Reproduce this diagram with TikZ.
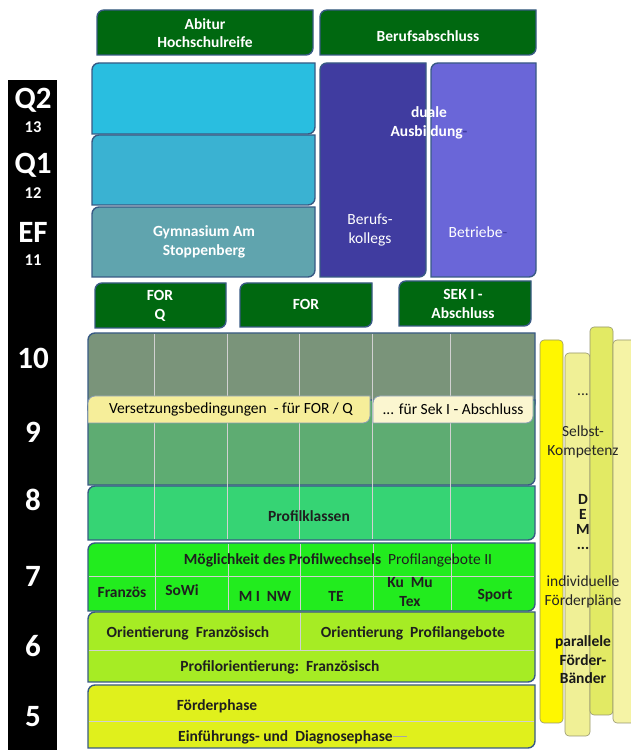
\documentclass[tikz,border=0pt]{standalone}
\usepackage{fontspec}
\setmainfont{Carlito}
\usetikzlibrary{calc}

\definecolor{boxline}{RGB}{56,90,132}
\definecolor{darkgreen}{RGB}{0,104,16}
\definecolor{cyanA}{RGB}{41,190,224}
\definecolor{cyanB}{RGB}{58,178,210}
\definecolor{tealgrey}{RGB}{96,164,174}
\definecolor{indigo}{RGB}{64,60,160}
\definecolor{slate}{RGB}{106,102,216}
\definecolor{greygreen}{RGB}{122,148,122}
\definecolor{ninegreen}{RGB}{94,172,114}
\definecolor{profgreen}{RGB}{54,212,116}
\definecolor{brightgreen}{RGB}{34,236,30}
\definecolor{yellowgreen}{RGB}{166,236,36}
\definecolor{lime}{RGB}{224,240,28}
\definecolor{versA}{RGB}{246,238,154}
\definecolor{versB}{RGB}{251,246,208}
\definecolor{barA}{RGB}{255,247,0}
\definecolor{barB}{RGB}{240,240,150}
\definecolor{barC}{RGB}{226,234,100}
\definecolor{barD}{RGB}{245,243,165}
\definecolor{barline}{RGB}{150,150,110}

\def\diagbox[#1](#2,#3)(#4,#5){\draw[#1] (#2,#3) -- (#2,#5-7) arc (180:90:7) -- (#4,#5) -- (#4,#3+7) arc (0:-90:7) -- cycle;}

\tikzset{
	bx/.style={draw=boxline, line width=1.4},
	colline/.style={draw=white!82!black, line width=0.8},
	btxt/.style={font=\fontsize{15.5}{18.5}\selectfont\bfseries},
	grade/.style={text=white, font=\fontsize{31}{33}\selectfont\bfseries},
	yr/.style={text=white, font=\fontsize{16.5}{18}\selectfont\bfseries},
	fband/.style={draw=barline, line width=0.6, rounded corners=4pt}
}

\begin{document}
\begin{tikzpicture}[x=1pt, y=1pt, font=\fontsize{15.5}{18.5}\selectfont, align=center, inner sep=0pt]
		%%%%% START %%%%%
		\useasboundingbox (0,0) rectangle (631,750);
		
		\fill[black] (8,0) rectangle (57,670);
		\node[grade] (q2) at (33,650) {Q2};
		\node[yr] (n13) at (33,623) {13};
		\node[grade] (q1) at (33,585) {Q1};
		\node[yr] (n12) at (33,557) {12};
		\node[grade] (ef) at (33,518) {EF};
		\node[yr] (n11) at (33,490) {11};
		\node[grade] (g10) at (33,392) {10};
		\node[grade] (g9) at (33,318) {9};
		\node[grade] (g8) at (33,250) {8};
		\node[grade] (g7) at (33,174) {7};
		\node[grade] (g6) at (33,104) {6};
		\node[grade] (g5) at (33,33) {5};
		
		\diagbox[bx, fill=darkgreen](97,695)(313,740);
		\node[btxt, text=white] (abi) at (205,717) {Abitur\\Hochschulreife};
		\diagbox[bx, fill=darkgreen](320,695)(536,740);
		\node[btxt, text=white] (beruf) at (428,714) {Berufsabschluss};
		
		\diagbox[bx, fill=cyanA](92,616)(315,687);
		\diagbox[bx, fill=cyanB](92,545)(315,615);
		\diagbox[bx, fill=tealgrey](92,473)(315,543);
		\node[btxt, text=white] (gym) at (204,508) {Gymnasium Am\\Stoppenberg};
		
		\diagbox[bx, fill=indigo](320,473)(426,687);
		\node[text=white] (kolleg) at (370,520) {Berufs-\\kollegs};
		\diagbox[bx, fill=slate](431,473)(536,687);
		\node[text=white] (betrieb) at (478,518) {Betriebe\textcolor{indigo}{-}};
		\node[btxt, text=white] (dual) at (429,627) {duale\\Ausbildung\textcolor{indigo}{-}};
		
		\diagbox[bx, fill=darkgreen](95,422)(226,467);
		\node[btxt, text=white] (forq) at (160,444) {FOR\\Q};
		\diagbox[bx, fill=darkgreen](240,423)(372,467);
		\node[btxt, text=white] (for) at (306,446) {FOR};
		\diagbox[bx, fill=darkgreen](399,424)(531,469);
		\node[btxt, text=white] (sek) at (463,446) {SEK I -\\Abschluss};
		
		\diagbox[bx, fill=greygreen](88,340)(535,417);
		\diagbox[bx, fill=ninegreen](88,265)(535,350);
		\diagbox[bx, fill=profgreen](88,210)(535,264);
		\foreach \cx in {154,227,299,372,450}
			\draw[colline] (\cx,416) -- (\cx,211);
		\diagbox[draw=boxline!60, line width=0.8, fill=versA](88,327)(370,354);
		\node (vers) at (231,341) {Versetzungsbedingungen\ \ - für FOR / Q};
		\diagbox[draw=boxline!60, line width=0.8, fill=versB](373,327)(533,354);
		\node (versek) at (453,341) {... für Sek I - Abschluss};
		\node[btxt, text=black!88] (profil) at (309,234) {Profilklassen};
		
		\diagbox[bx, fill=brightgreen](88,139)(535,207);
		\draw[colline] (89,174) -- (534,174);
		\foreach \cx in {155,228,300,373,451}
			\draw[colline] (\cx,206) -- (\cx,140);
		\node[text=black!88] (wechsel) at (338,190) {\textbf{Möglichkeit des Profilwechsels}\ \ Profilangebote II};
		\node[btxt, text=black!88] (frz) at (122,158) {Französ};
		\node[btxt, text=black!88] (sowi) at (182,160) {SoWi};
		\node[btxt, text=black!88] (minw) at (265,154) {M I\ \ NW};
		\node[btxt, text=black!88] (te) at (336,154) {TE};
		\node[btxt, text=black!88] (kumu) at (410,158) {Ku\ \ Mu\\Tex};
		\node[btxt, text=black!88] (sport) at (495,154) {Sport};
		
		\diagbox[bx, fill=yellowgreen](88,68)(535,138);
		\draw[colline] (89,100) -- (534,100);
		\draw[colline] (300,137) -- (300,100);
		\node[btxt, text=black!88] (orfrz) at (188,117) {Orientierung\ \ Französisch};
		\node[btxt, text=black!88] (orprof) at (413,117) {Orientierung\ \ Profilangebote};
		\node[btxt, text=black!88] (proffrz) at (280,83) {Profilorientierung:\ \ Französisch};
		
		\diagbox[bx, fill=lime](88,2)(535,65);
		\draw[colline] (89,29) -- (534,29);
		\node[btxt, text=black!88] (foerder) at (217,44) {Förderphase};
		\node[btxt, text=black!88, anchor=west] (einf) at (178,13) {Einführungs- und\ \ Diagnosephase};
		\draw[black!35, line width=0.6] (einf.east) ++(0,1) -- ++(14,0);
		
		\draw[fband, fill=barA] (540,27) rectangle (563,410);
		\draw[fband, fill=barB] (565,14) rectangle (590,397);
		\draw[fband, fill=barC] (590,35) rectangle (613,423);
		\draw[fband, fill=barD] (613,27) rectangle (640,410);
		\node[text=black!85] (dots) at (583,355) {...};
		\node[text=black!85] (selbst) at (583,308) {Selbst-\\Kompetenz};
		\node[btxt, text=black!90, font=\fontsize{15.5}{15}\selectfont\bfseries] (dem) at (583,228) {D\\E\\M\\...};
		\node[text=black!85] (indiv) at (583,158) {individuelle\\Förderpläne};
		\node[btxt, text=black!90] (parallel) at (583,90) {parallele\\Förder-\\Bänder};
		
		%%%%% END %%%%%
	\end{tikzpicture}
\end{document}
